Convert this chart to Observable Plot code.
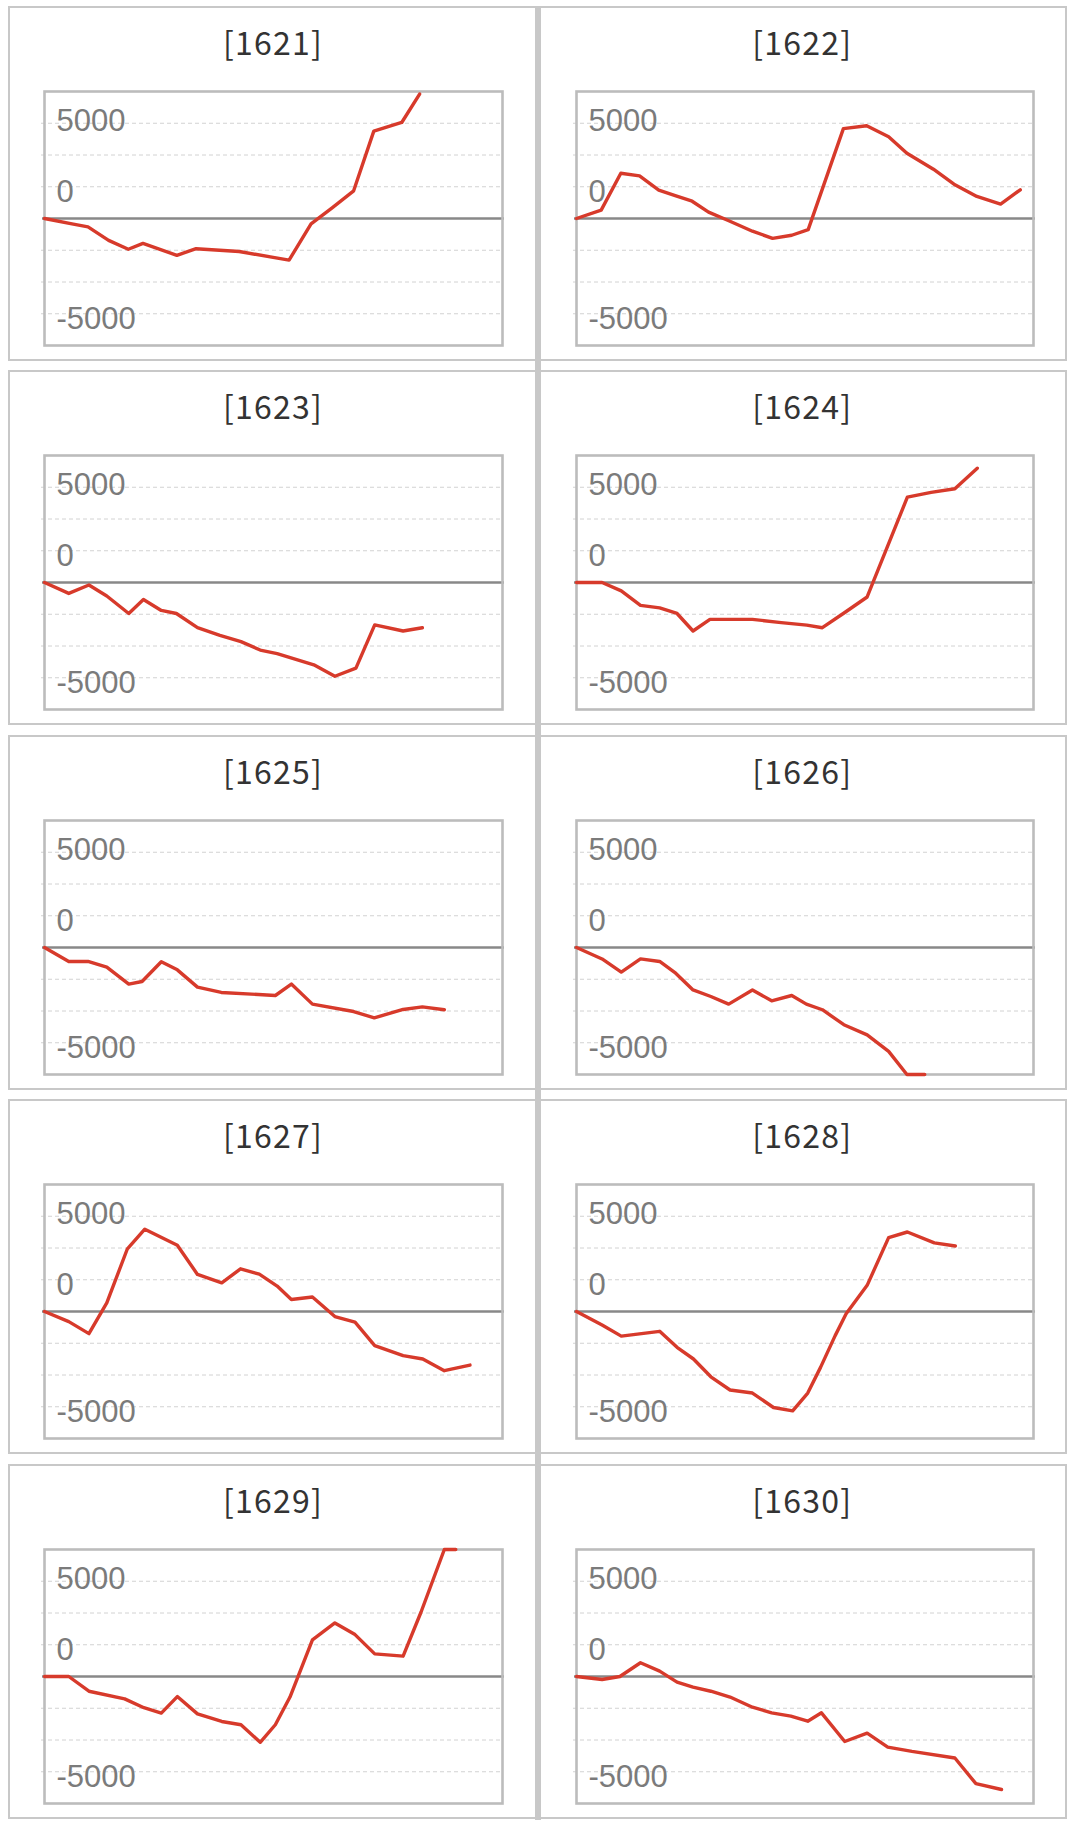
<!DOCTYPE html>
<html>
<head>
<meta charset="utf-8">
<script src="https://cdn.jsdelivr.net/npm/d3@7"></script>
<script src="https://cdn.jsdelivr.net/npm/@observablehq/plot@0.6"></script>
<style>
  html, body { margin: 0; padding: 0; background: #fff; }
  #root { position: relative; width: 1074px; height: 1833px; overflow: hidden; background: #fff; }
  .panel { position: absolute; box-sizing: border-box; border: 2.8px solid #c8c8c8; background: #fff; }
  .title { position: absolute; text-align: center; font-family: "Noto Sans CJK JP", "Noto Sans", sans-serif;
           font-size: 32px; color: #333; height: 40px; line-height: 40px; letter-spacing: 1.2px; }
  .vline { position: absolute; background: #c8c8c8; }
  .chart { position: absolute; }
</style>
</head>
<body>
<div id="root"></div>
<script>
// ---- data (x = position in the period, 0..100; y = value) ----
const codes = ["1621", "1622", "1623", "1624", "1625", "1626", "1627", "1628", "1629", "1630"];

const t1621 = [0, 6.0, 9.5, 14.0, 18.3, 21.5, 28.9, 33.1, 42.5, 53.4, 58.2, 62.8, 67.5, 71.9, 78.0, 81.9];
const v1621 = [0, -210, -330, -860, -1210, -980, -1450, -1190, -1300, -1640, -210, 420, 1090, 3440, 3780, 4900];

const t1622 = [0, 5.4, 9.7, 13.8, 18.0, 21.6, 25.3, 28.9, 33.2, 38.5, 42.9, 47.1, 50.7, 58.4, 63.5, 68.3, 72.3, 78.1, 82.6, 87.6, 92.8, 97.1];
const v1622 = [0, 330, 1780, 1680, 1120, 900, 680, 250, -80, -500, -780, -660, -440, 3540, 3650, 3220, 2570, 1940, 1350, 870, 570, 1130];

const t1623 = [0, 5.3, 9.7, 13.6, 18.4, 21.6, 25.5, 28.8, 33.4, 38.3, 42.9, 47.1, 50.8, 58.8, 63.4, 68.0, 72.1, 78.3, 82.5];
const v1623 = [0, -430, -100, -530, -1220, -670, -1100, -1220, -1780, -2080, -2330, -2660, -2800, -3240, -3690, -3370, -1670, -1910, -1780];

const t1624 = [0, 5.6, 9.8, 14.0, 18.2, 22.0, 25.5, 29.2, 38.5, 44.8, 50.4, 53.8, 58.7, 63.6, 72.4, 77.6, 82.8, 87.7];
const v1624 = [0, 0, -330, -900, -1000, -1220, -1910, -1450, -1450, -1580, -1680, -1780, -1180, -570, 3360, 3550, 3690, 4500];

const t1625 = [0, 5.3, 9.5, 13.6, 18.4, 21.3, 25.5, 29.0, 33.4, 38.6, 46.7, 50.4, 53.9, 58.5, 67.5, 72.0, 78.3, 82.5, 87.3];
const v1625 = [0, -550, -550, -770, -1440, -1340, -560, -880, -1560, -1770, -1850, -1890, -1440, -2230, -2520, -2770, -2440, -2340, -2450];

const t1626 = [0, 5.6, 9.8, 14.0, 18.2, 21.7, 25.5, 29.4, 33.3, 38.5, 42.7, 47.1, 50.3, 53.8, 58.5, 63.6, 68.3, 72.3, 76.2];
const v1626 = [0, -450, -970, -450, -550, -1010, -1670, -1930, -2230, -1670, -2100, -1890, -2230, -2450, -3040, -3440, -4090, -5000, -5200];

const t1627 = [0, 5.3, 9.7, 13.6, 18.1, 21.9, 29.0, 33.4, 38.7, 42.8, 46.9, 50.8, 53.9, 58.5, 63.4, 67.8, 72.1, 78.3, 82.6, 87.3, 92.9];
const v1627 = [0, -400, -870, 340, 2470, 3240, 2610, 1460, 1130, 1680, 1470, 1000, 470, 570, -200, -420, -1340, -1740, -1870, -2330, -2110];

const t1628 = [0, 5.6, 9.8, 18.2, 22.0, 25.6, 29.4, 33.6, 38.5, 43.1, 47.3, 50.6, 53.4, 56.6, 59.0, 63.6, 68.3, 72.4, 78.3, 82.9];
const v1628 = [0, -530, -970, -780, -1410, -1870, -2570, -3090, -3210, -3780, -3910, -3210, -2200, -950, -90, 1030, 2910, 3130, 2700, 2580];

const t1629 = [0, 5.3, 9.7, 17.5, 21.7, 25.5, 29.0, 33.4, 38.7, 42.9, 47.1, 50.4, 53.6, 58.5, 63.4, 67.8, 72.1, 78.3, 82.2, 87.3, 89.8];
const v1629 = [0, 0, -580, -880, -1230, -1440, -790, -1470, -1770, -1900, -2590, -1900, -810, 1440, 2110, 1650, 890, 800, 2530, 5100, 5300];

const t1630 = [0, 5.6, 9.5, 14.0, 18.2, 22.0, 25.5, 29.4, 33.6, 38.5, 42.7, 46.9, 50.6, 53.6, 58.7, 63.6, 68.1, 73.4, 82.8, 87.4, 93.0];
const v1630 = [0, -120, 0, 540, 210, -220, -420, -580, -810, -1210, -1430, -1560, -1760, -1430, -2560, -2230, -2780, -2950, -3210, -4220, -4450];

const yTickValues = [5000, 0, -5000];
const yTickLabels = ["5000", "0", "-5000"];
const gridValues = [-3750, -2500, -1250, 1250, 2500, 3750];
const yDomain = [-5000, 5000];

// ---- build ----
const seriesT = [t1621, t1622, t1623, t1624, t1625, t1626, t1627, t1628, t1629, t1630];
const seriesV = [v1621, v1622, v1623, v1624, v1625, v1626, v1627, v1628, v1629, v1630];
const tickData = yTickValues.map((v, i) => ({v, label: yTickLabels[i]}));

const root = document.getElementById("root");
const m = 12;

codes.forEach((code, i) => {
  const r = Math.floor(i / 2), c = i % 2;
  const top = 5.7 + 364.5 * r;
  const left = c ? 538 : 8;
  const pw = c ? 528.5 : 530;

  const panel = document.createElement("div");
  panel.className = "panel";
  Object.assign(panel.style, {left: left + "px", top: top + "px", width: pw + "px", height: "355px"});
  root.appendChild(panel);

  const title = document.createElement("div");
  title.className = "title";
  Object.assign(title.style, {left: left + "px", width: pw + "px", top: (top + 15) + "px"});
  title.textContent = "[" + code + "]";
  root.appendChild(title);

  const frameLeft = c ? 575.5 : 43.6;
  const fw = c ? 457 : 458;
  const fh = 254;
  const frameTop = top + 84.8;

  const data = seriesT[i].map((t, k) => ({t, v: seriesV[i][k]}));

  const chart = Plot.plot({
    width: fw + 2 * m,
    height: fh + 2 * m,
    marginLeft: m, marginRight: m, marginTop: m, marginBottom: m,
    x: {domain: [0, 100], axis: null},
    y: {domain: yDomain, axis: null, clamp: true},
    style: {background: "transparent", overflow: "visible", fontFamily: "'Liberation Sans', Arial, sans-serif"},
    marks: [
      Plot.ruleY(gridValues, {stroke: "#d2d2d2", strokeWidth: 1, strokeDasharray: "4,3", insetLeft: -3}),
      Plot.ruleY([0], {stroke: "#888888", strokeWidth: 2.6, insetLeft: -2, insetRight: -2}),
      Plot.frame({stroke: "#bcbcbc", strokeWidth: 2.6}),
      Plot.text(tickData.filter(d => d.v > 0), {y: "v", text: "label", frameAnchor: "left", textAnchor: "start",
        dx: 12, dy: 30, fill: "#7b7b7b", fontSize: 31}),
      Plot.text(tickData.filter(d => d.v <= 0), {y: "v", text: "label", frameAnchor: "left", textAnchor: "start",
        dx: 12, dy: -26, fill: "#7b7b7b", fontSize: 31}),
      Plot.line(data, {x: "t", y: "v", stroke: "#d73a2b", strokeWidth: 3.4})
    ]
  });
  const wrap = document.createElement("div");
  wrap.className = "chart";
  Object.assign(wrap.style, {left: (frameLeft - m) + "px", top: (frameTop - m) + "px"});
  wrap.appendChild(chart);
  root.appendChild(wrap);
});

const vline = document.createElement("div");
vline.className = "vline";
Object.assign(vline.style, {left: "535px", width: "6px", top: "5.7px", height: (1820.5 - 5.7) + "px"});
root.appendChild(vline);
</script>
</body>
</html>
